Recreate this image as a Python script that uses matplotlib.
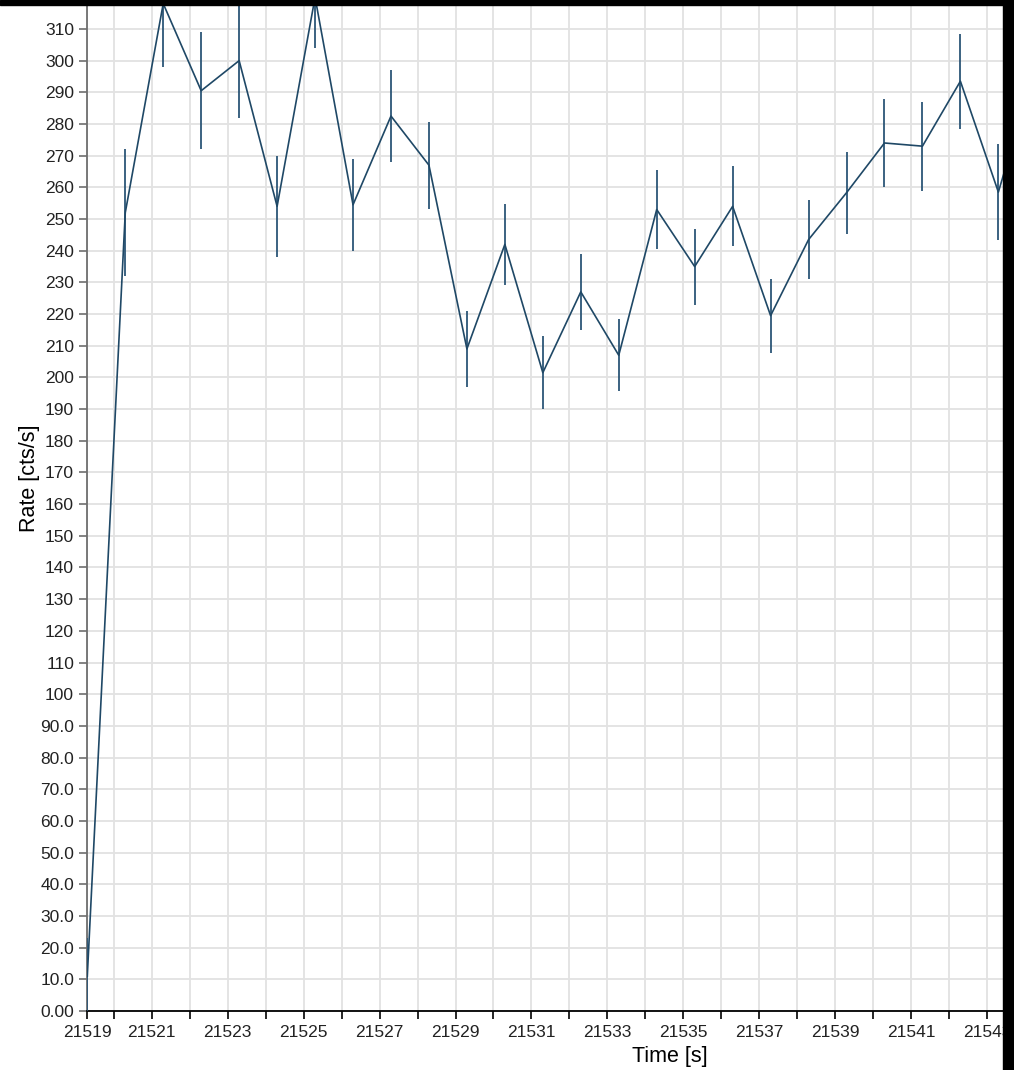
import numpy as np
import matplotlib
matplotlib.use('Agg')
import matplotlib.pyplot as plt
from matplotlib.patches import Rectangle
from matplotlib.ticker import FixedLocator, FuncFormatter

plt.rcParams['font.family'] = ['Liberation Sans', 'DejaVu Sans']

# light curve, 1 s bins starting at 21519.3
time = [21519.3, 21520.3, 21521.3, 21522.3, 21523.3, 21524.3, 21525.3, 21526.3,
        21527.3, 21528.3, 21529.3, 21530.3, 21531.3, 21532.3, 21533.3, 21534.3,
        21535.3, 21536.3, 21537.3, 21538.3, 21539.3, 21540.3, 21541.3, 21542.3,
        21543.3, 21544.3]
rate = [11, 252, 318, 290.5, 300, 254, 320, 254.5, 282.5, 267, 209, 242, 201.5,
        227, 207, 253, 235, 254, 219.5, 243.5, 258.3, 274, 273, 293.5, 258.5, 299]
rate_err = [12, 20, 20, 18.5, 18, 16, 16, 14.5, 14.6, 13.7, 12, 12.7, 11.5, 12,
            11.4, 12.5, 12, 12.6, 11.7, 12.4, 13, 13.8, 14, 15, 15.2, 15]

x_start, x_end = 21519.3, 21550.0
y_top = 336.5

W, H = 1014, 1070
fig = plt.figure(figsize=(W / 100, H / 100), dpi=100)
ax = fig.add_axes([87.3 / W, (H - 1011) / H, (1252.7 - 87.3) / W, (1011 + 55) / H])

col = '#1f4866'
ax.errorbar(time, rate, yerr=rate_err, color=col, ecolor='#2c5677', lw=1.2,
            elinewidth=1.3, capsize=0, zorder=3)

ax.set_xlim(x_start, x_end)
ax.set_ylim(0, y_top)

xt = [x_start] + list(range(21520, 21551))
ax.xaxis.set_major_locator(FixedLocator(xt))
ax.xaxis.set_major_formatter(FuncFormatter(
    lambda v, p: '21519' if p == 0 else (str(int(round(v))) if int(round(v)) % 2 == 1 else '')))
ax.yaxis.set_major_locator(FixedLocator(np.arange(0, 331, 10)))
ax.yaxis.set_major_formatter(FuncFormatter(
    lambda v, p: '0.00' if v == 0 else ('%.1f' % v if v < 100 else '%d' % v)))

ax.grid(True, color='#e2e2e2', lw=1.3, zorder=0)
ax.set_axisbelow(True)
for s in ['top', 'right']:
    ax.spines[s].set_visible(False)
ax.spines['left'].set_color('#6e6e6e')
ax.spines['left'].set_linewidth(1.3)
ax.spines['bottom'].set_color('black')
ax.spines['bottom'].set_linewidth(1.3)
ax.tick_params(axis='y', length=6, width=1.2, color='#6e6e6e', pad=3.5, labelsize=12.5, labelcolor='#222222')
ax.tick_params(axis='x', length=6, width=1.2, color='black', pad=4, labelsize=12.5, labelcolor='#222222')

ax.set_xlabel('Time [s]', fontsize=15.5, labelpad=4.5)
ax.set_ylabel('Rate [cts/s]', fontsize=15.5, labelpad=0.5)

# black border of the screenshot
fig.patches.append(Rectangle((0, (H - 5) / H), 1, 5 / H, transform=fig.transFigure,
                             color='black', zorder=10))
fig.patches.append(Rectangle((1003 / W, 0), 11 / W, 1, transform=fig.transFigure,
                             color='black', zorder=10))

fig.savefig('out.png', dpi=100)
